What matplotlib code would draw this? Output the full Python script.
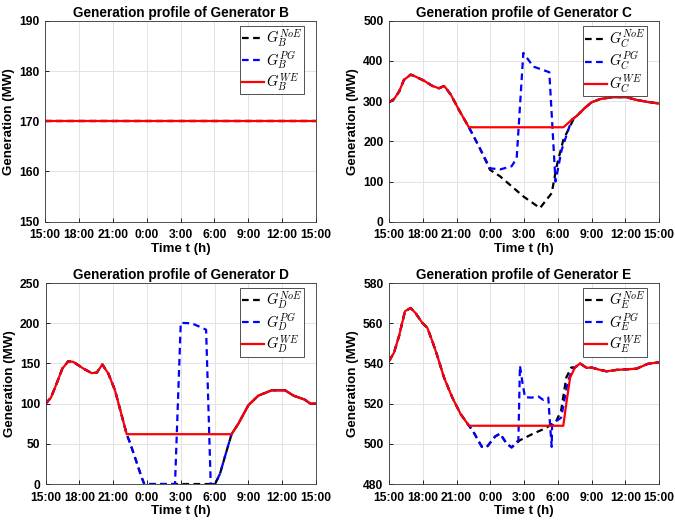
import numpy as np
import matplotlib
matplotlib.use('Agg')
import matplotlib.pyplot as plt

plt.rcParams['font.family'] = ['Liberation Sans', 'DejaVu Sans']
plt.rcParams['mathtext.fontset'] = 'cm'

# hours after 15:00
tick_hours = [0, 3, 6, 9, 12, 15, 18, 21, 24]
tick_labels = ['15:00', '18:00', '21:00', '0:00', '3:00', '6:00', '9:00', '12:00', '15:00']

# Generator B: everything flat
B_t = [0, 24]
B_val = [170, 170]

# Generator C
C_t_head = [0, 0.44, 0.9, 1.33, 1.93, 2.37, 3.1, 3.85, 4.44, 4.9, 5.5, 6.2, 7.1]
C_head = [297, 305, 324, 353, 366, 361, 351, 338, 332, 338, 316, 279, 235]
C_t_tail = [16.4, 16.8, 17.4, 18.0, 18.75, 19.9, 21.1, 22, 23, 24]
C_tail = [257, 266, 283, 297, 305, 310, 310, 303, 298, 294]
C_t_we = [15.5, 16.1]
C_we = [235, 250]
C_t_pg = [8.0, 8.98, 9.87, 10.9, 11.35, 11.94, 12.83, 14.25, 14.8, 15.35, 16.24]
C_pg = [187, 133, 130, 138, 158, 420, 386, 372, 100, 179, 254]
C_t_noe = [8.0, 8.98, 9.87, 11.94, 13.42, 14.46, 14.9, 15.5, 16.38]
C_noe = [187, 129, 113, 63, 34, 71, 138, 204, 254]

# Generator D
D_t_head = [0, 0.47, 0.97, 1.48, 2.01, 2.45, 3.34, 4.08, 4.53, 5.03, 5.56, 6.15, 7.19]
D_head = [100, 107.6, 125, 143.7, 152.8, 152, 143.7, 138, 138.5, 148.7, 137.5, 116.7, 62]
D_t_tail = [17.1, 17.99, 18.88, 20.06, 21.25, 22, 23, 23.5, 24]
D_tail = [75, 98, 110, 116.6, 116.6, 110, 105, 100, 100]
D_t_we = [16.5]
D_we = [62]
D_t_pg = [7.5, 8.0, 8.5, 8.75, 11.48, 11.99, 12.96, 13.7, 14.24, 14.65, 15.04, 15.48, 15.9, 16.5]
D_pg = [50.7, 30, 9, 0, 0, 200.5, 200, 195.5, 192, 0, 0, 13, 33.6, 62]
D_t_noe = [7.5, 8.0, 8.5, 8.75, 15.04, 15.48, 15.9, 16.5]
D_noe = [50.7, 30, 9, 0, 0, 13, 33.6, 62]

# Generator E
E_t_head = [0, 0.44, 0.89, 1.42, 1.93, 2.37, 2.96, 3.41, 3.85, 4.3, 4.89, 5.63, 6.37, 7.11]
E_head = [541.2, 545.3, 553.6, 566, 567.6, 565, 560.2, 557.7, 551.1, 543.7, 533, 523, 514.8, 509]
E_t_tail = [16.53, 16.98, 17.57, 18.0, 18.76, 19.35, 20.24, 21.4, 22, 23, 24]
E_tail = [538, 540, 537.8, 538, 536.8, 536.1, 536.8, 537.2, 537.4, 539.8, 540.6]
E_t_we = [15.49, 15.8, 16.1]
E_we = [509, 521.6, 533]
E_t_pg = [7.5, 8.24, 8.68, 9.42, 9.87, 10.46, 10.9, 11.5, 11.64, 11.88, 12.09, 12.68,
          13.27, 13.71, 14.16, 14.31, 14.46, 14.5, 14.9, 15.3, 15.9, 16.3]
E_pg = [506, 498.6, 498.3, 503.6, 505.1, 500.1, 498.2, 501.8, 538.9, 529.8, 523.2, 523,
        523.6, 521.9, 523, 510, 498.5, 509.2, 511.5, 513, 531, 537]
E_t_noe = [7.5, 8.24, 8.68, 9.42, 9.87, 10.46, 10.9, 11.64, 12.83, 14.0, 14.9, 15.3, 15.76, 16.2]
E_noe = [506, 498.6, 498.3, 503.6, 505.1, 500.1, 498.2, 501.8, 505.1, 508, 511.7, 516.6, 533, 538]


def series(t_head, head, t_mid, mid, t_tail, tail):
    return list(t_head) + list(t_mid) + list(t_tail), list(head) + list(mid) + list(tail)


panels = [
    ('B', [0.0667, 0.5785, 0.4015, 0.382], (150, 190), 10,
     (B_t, B_val), (B_t, B_val), (B_t, B_val)),
    ('C', [0.5763, 0.5785, 0.400, 0.382], (0, 500), 100,
     series(C_t_head, C_head, C_t_noe, C_noe, C_t_tail, C_tail),
     series(C_t_head, C_head, C_t_pg, C_pg, C_t_tail, C_tail),
     series(C_t_head, C_head, C_t_we, C_we, C_t_tail, C_tail)),
    ('D', [0.0677, 0.0798, 0.4005, 0.382], (0, 250), 50,
     series(D_t_head, D_head, D_t_noe, D_noe, D_t_tail, D_tail),
     series(D_t_head, D_head, D_t_pg, D_pg, D_t_tail, D_tail),
     series(D_t_head, D_head, D_t_we, D_we, D_t_tail, D_tail)),
    ('E', [0.5763, 0.0798, 0.400, 0.382], (480, 580), 20,
     series(E_t_head, E_head, E_t_noe, E_noe, E_t_tail, E_tail),
     series(E_t_head, E_head, E_t_pg, E_pg, E_t_tail, E_tail),
     series(E_t_head, E_head, E_t_we, E_we, E_t_tail, E_tail)),
]

fig = plt.figure(figsize=(6.75, 5.26), dpi=100)

for name, pos, ylim, ystep, noe, pg, we in panels:
    ax = fig.add_axes(pos)
    ax.plot(noe[0], noe[1], color='k', lw=1.6, ls=(0, (3, 2)), label=r'$G_{%s}^{NoE}$' % name)
    ax.plot(pg[0], pg[1], color='#0000ff', lw=1.6, ls=(0, (3, 2)), label=r'$G_{%s}^{PG}$' % name)
    ax.plot(we[0], we[1], color='#ff0000', lw=1.6, label=r'$G_{%s}^{WE}$' % name)
    ax.set_xlim(0, 24)
    ax.set_ylim(*ylim)
    ax.set_xticks(tick_hours)
    ax.set_xticklabels(tick_labels)
    ax.set_yticks(np.arange(ylim[0], ylim[1] + 1, ystep))
    ax.tick_params(direction='in', length=3, width=0.6, labelsize=8.7)
    ax.tick_params(axis='x', pad=5.5)
    ax.tick_params(axis='y', pad=4)
    for lab in ax.get_xticklabels() + ax.get_yticklabels():
        lab.set_fontweight('bold')
    ax.grid(True, color='#e3e3e3', lw=0.7)
    ax.set_axisbelow(True)
    for sp in ax.spines.values():
        sp.set_linewidth(0.6)
        sp.set_color('#333333')
    ax.set_title('Generation profile of Generator %s' % name, fontsize=9.8, fontweight='bold', pad=3)
    ax.set_xlabel('Time t (h)', fontsize=9.6, fontweight='bold', labelpad=1)
    ax.set_ylabel('Generation (MW)', fontsize=9.6, fontweight='bold', labelpad=3)
    leg = ax.legend(loc='upper right', bbox_to_anchor=(0.955, 0.975), fontsize=10.5,
                    handlelength=1.5, handletextpad=0.15, borderpad=0.1, labelspacing=0.0,
                    fancybox=False, framealpha=1, borderaxespad=0)
    leg.get_frame().set_edgecolor('#333333')
    leg.get_frame().set_linewidth(0.6)

fig.savefig('out.png', dpi=100)
